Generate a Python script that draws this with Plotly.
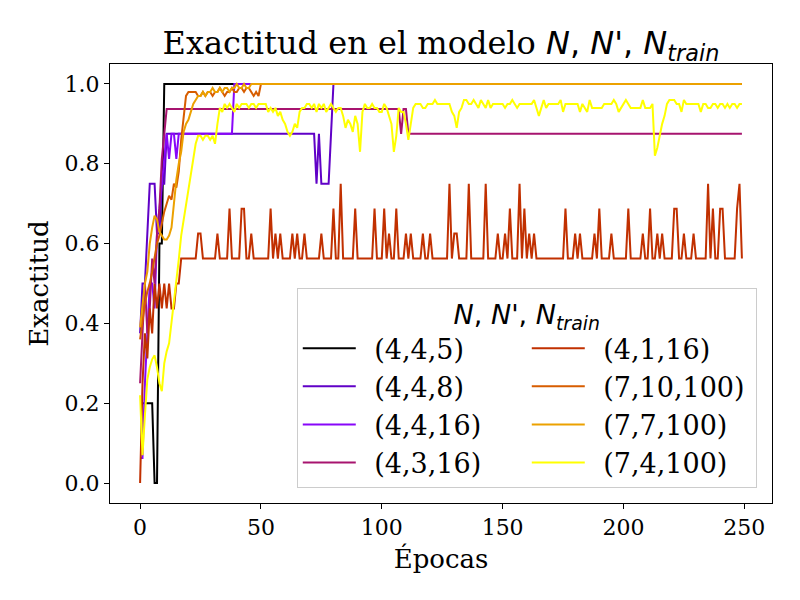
import plotly.graph_objects as go

# epochs 0..249
epochs = list(range(250))

labels = ["(4,4,5)", "(4,4,8)", "(4,4,16)", "(4,3,16)",
          "(4,1,16)", "(7,10,100)", "(7,7,100)", "(7,4,100)"]

# matplotlib "gnuplot" colormap sampled at 8 points
colors = ["#000000", "#6001c7", "#8806f9", "#a7146f",
          "#c13000", "#d75d00", "#eca100", "#ffff00"]

# legend slot (two columns, filled top-down like matplotlib ncol=2)
legend_rank = [1, 3, 5, 7, 2, 4, 6, 8]

acc_4_4_5 = [0.2] * 6 + [0.0, 0.0, 0.6, 0.6] + [1.0] * 240

acc_4_4_8 = ([0.375, 0.5, 0.5, 0.625, 0.75, 0.75, 0.75, 0.625, 0.625, 0.75, 0.75]
             + [0.875] * 62
             + [0.75, 0.875, 0.75, 0.75, 0.75, 0.75, 0.875]
             + [1.0] * 170)

acc_4_4_16 = ([0.0625, 0.0625, 0.25, 0.375, 0.5, 0.5, 0.4375, 0.625, 0.6875, 0.75,
               0.8125, 0.875, 0.8125, 0.875, 0.875, 0.8125]
              + [0.875] * 23
              + [1.0] * 211)

acc_4_3_16 = ([0.25, 0.375, 0.5, 0.375, 0.4375, 0.5625, 0.5, 0.625, 0.6875, 0.8125, 0.875]
              + [0.9375] * 97
              + [0.875, 0.9375, 0.9375]
              + [0.875] * 139)

acc_4_1_16 = [
    0.0, 0.25, 0.375, 0.3125, 0.4375, 0.375, 0.5, 0.4375, 0.5, 0.4375,
    0.5, 0.4375, 0.5, 0.4375, 0.4375, 0.5, 0.5, 0.5625, 0.5625, 0.5625,
    0.5625, 0.5625, 0.5625, 0.5625, 0.625, 0.625, 0.5625, 0.5625, 0.5625, 0.5625,
    0.5625, 0.5625, 0.625, 0.5625, 0.5625, 0.5625, 0.5625, 0.6875, 0.5625, 0.5625,
    0.5625, 0.5625, 0.6875, 0.6875, 0.5625, 0.5625, 0.625, 0.5625, 0.5625, 0.5625,
    0.5625, 0.5625, 0.5625, 0.5625, 0.6875, 0.5625, 0.625, 0.5625, 0.625, 0.5625,
    0.5625, 0.5625, 0.5625, 0.625, 0.5625, 0.625, 0.5625, 0.5625, 0.625, 0.5625,
    0.5625, 0.5625, 0.5625, 0.5625, 0.5625, 0.625, 0.5625, 0.5625, 0.5625, 0.5625,
    0.6875, 0.5625, 0.5625, 0.75, 0.5625, 0.5625, 0.5625, 0.5625, 0.5625, 0.6875,
    0.5625, 0.5625, 0.5625, 0.5625, 0.5625, 0.5625, 0.5625, 0.6875, 0.5625, 0.5625,
    0.5625, 0.6875, 0.5625, 0.625, 0.5625, 0.5625, 0.6875, 0.5625, 0.5625, 0.5625,
    0.625, 0.5625, 0.625, 0.5625, 0.5625, 0.5625, 0.5625, 0.625, 0.5625, 0.5625,
    0.625, 0.5625, 0.5625, 0.5625, 0.5625, 0.5625, 0.5625, 0.5625, 0.75, 0.5625,
    0.625, 0.625, 0.5625, 0.5625, 0.5625, 0.5625, 0.75, 0.5625, 0.5625, 0.5625,
    0.5625, 0.5625, 0.5625, 0.75, 0.5625, 0.5625, 0.5625, 0.5625, 0.625, 0.5625,
    0.5625, 0.625, 0.5625, 0.6875, 0.5625, 0.5625, 0.5625, 0.75, 0.5625, 0.6875,
    0.5625, 0.625, 0.5625, 0.625, 0.5625, 0.5625, 0.5625, 0.5625, 0.5625, 0.5625,
    0.5625, 0.5625, 0.5625, 0.5625, 0.5625, 0.5625, 0.6875, 0.5625, 0.5625, 0.5625,
    0.625, 0.5625, 0.625, 0.5625, 0.5625, 0.5625, 0.5625, 0.5625, 0.625, 0.5625,
    0.6875, 0.5625, 0.5625, 0.5625, 0.5625, 0.625, 0.5625, 0.5625, 0.5625, 0.5625,
    0.5625, 0.5625, 0.6875, 0.5625, 0.5625, 0.5625, 0.5625, 0.5625, 0.625, 0.5625,
    0.5625, 0.6875, 0.5625, 0.5625, 0.625, 0.5625, 0.625, 0.5625, 0.5625, 0.5625,
    0.5625, 0.6875, 0.6875, 0.5625, 0.5625, 0.625, 0.5625, 0.5625, 0.5625, 0.625,
    0.5625, 0.5625, 0.5625, 0.5625, 0.5625, 0.75, 0.5625, 0.6875, 0.5625, 0.5625,
    0.6875, 0.6875, 0.5625, 0.5625, 0.5625, 0.5625, 0.5625, 0.6875, 0.75, 0.5625,
]

acc_7_10_100 = [
    0.36, 0.41, 0.45, 0.48, 0.5, 0.53, 0.57, 0.6, 0.62, 0.65,
    0.68, 0.7, 0.72, 0.71, 0.75, 0.74, 0.78, 0.86, 0.92, 0.97,
    0.98, 0.98, 0.98, 0.98, 0.97, 0.97, 0.98, 0.97, 0.98, 0.98,
    0.97, 0.98, 0.98, 0.99, 0.98, 0.97, 0.98, 0.98, 0.99, 0.98,
    0.98, 0.99, 0.99, 0.98, 0.99, 0.99, 0.98, 0.97, 0.98, 0.97,
] + [1.0] * 200

acc_7_7_100 = [
    0.39, 0.45, 0.5, 0.53, 0.6, 0.64, 0.67, 0.66, 0.63, 0.62,
    0.61, 0.61, 0.62, 0.64, 0.7, 0.76, 0.8, 0.83, 0.88, 0.9,
    0.91, 0.93, 0.95, 0.96, 0.97, 0.97, 0.98, 0.97, 0.98, 0.98,
    0.99, 0.98, 0.98, 0.99, 0.98, 0.99, 0.99, 0.98, 0.99, 0.99,
    1.0, 0.99, 0.99, 1.0, 0.99, 0.99,
] + [1.0] * 204

acc_7_4_100 = [
    0.22, 0.07, 0.17, 0.26, 0.29, 0.31, 0.32, 0.29, 0.25, 0.23,
    0.3, 0.33, 0.35, 0.4, 0.46, 0.5, 0.56, 0.62, 0.66, 0.7,
    0.74, 0.78, 0.82, 0.85, 0.87, 0.87, 0.86, 0.87, 0.87, 0.86,
    0.87, 0.85, 0.9, 0.94, 0.93, 0.95, 0.94, 0.95, 0.94, 0.93,
    0.95, 0.94, 0.95, 0.95, 0.95, 0.94, 0.95, 0.95, 0.94, 0.95,
    0.95, 0.95, 0.95, 0.93, 0.94, 0.93, 0.94, 0.92, 0.93, 0.91,
    0.9, 0.88, 0.87, 0.88, 0.9, 0.89, 0.93, 0.94, 0.94, 0.95,
    0.95, 0.94, 0.95, 0.93, 0.95, 0.94, 0.95, 0.93, 0.94, 0.95,
    0.94, 0.93, 0.94, 0.94, 0.92, 0.89, 0.91, 0.9, 0.88, 0.92,
    0.9, 0.83, 0.93, 0.95, 0.94, 0.94, 0.95, 0.94, 0.94, 0.93,
    0.93, 0.95, 0.94, 0.92, 0.9, 0.83, 0.87, 0.94, 0.93, 0.93,
    0.9, 0.86, 0.9, 0.94, 0.95, 0.95, 0.95, 0.94, 0.94, 0.95,
    0.95, 0.95, 0.96, 0.95, 0.95, 0.95, 0.95, 0.95, 0.95, 0.93,
    0.92, 0.89, 0.93, 0.94, 0.96, 0.96, 0.95, 0.95, 0.96, 0.95,
    0.94, 0.96, 0.95, 0.94, 0.96, 0.94, 0.95, 0.95, 0.95, 0.95,
    0.95, 0.94, 0.95, 0.95, 0.96, 0.95, 0.94, 0.95, 0.95, 0.95,
    0.95, 0.95, 0.95, 0.96, 0.94, 0.92, 0.94, 0.96, 0.94, 0.95,
    0.95, 0.95, 0.95, 0.95, 0.96, 0.93, 0.95, 0.95, 0.95, 0.95,
    0.95, 0.95, 0.93, 0.95, 0.94, 0.93, 0.96, 0.94, 0.94, 0.94,
    0.94, 0.94, 0.95, 0.95, 0.95, 0.95, 0.96, 0.95, 0.93, 0.94,
    0.95, 0.96, 0.95, 0.94, 0.94, 0.94, 0.94, 0.94, 0.96, 0.94,
    0.94, 0.94, 0.95, 0.82, 0.84, 0.87, 0.9, 0.92, 0.95, 0.96,
    0.96, 0.96, 0.95, 0.95, 0.93, 0.96, 0.95, 0.95, 0.95, 0.95,
    0.95, 0.95, 0.93, 0.95, 0.95, 0.94, 0.94, 0.95, 0.95, 0.94,
    0.95, 0.95, 0.94, 0.95, 0.94, 0.95, 0.95, 0.94, 0.95, 0.95,
]

series = [acc_4_4_5, acc_4_4_8, acc_4_4_16, acc_4_3_16,
          acc_4_1_16, acc_7_10_100, acc_7_7_100, acc_7_4_100]

MATH = "font-family:DejaVu Sans"
math_label = f"<span style='{MATH}'><i>N</i>, <i>N'</i>, <i>N<sub>train</sub></i></span>"
GAP = "\u2002"  # extra room between legend line and its label

fig = go.Figure()
for name, ys, col, rank in zip(labels, series, colors, legend_rank):
    fig.add_trace(go.Scatter(
        x=epochs, y=ys, mode="lines", name=GAP + name,
        line=dict(color=col, width=2),
        legendrank=rank,
    ))

# the page body adds an 8px offset, so margins are shifted by 8px
fig.update_layout(
    width=800, height=600,
    margin=dict(l=102, r=36, t=56, b=105),
    paper_bgcolor="white", plot_bgcolor="white",
    font=dict(family="DejaVu Serif", size=22, color="black"),
    title=dict(
        text="Exactitud en el modelo " + math_label,
        x=0.5, xref="paper", xanchor="center",
        y=1 - 35 / 600, yref="container", yanchor="middle",
        font=dict(size=32),
    ),
    legend=dict(
        orientation="h",
        x=0.977, xanchor="right", y=0.034, yanchor="bottom",
        entrywidth=161, entrywidthmode="pixels",
        itemwidth=53,
        bgcolor="rgba(255,255,255,0.8)",
        bordercolor="#cccccc", borderwidth=1,
        font=dict(size=27),
        title=dict(text=math_label, side="top center", font=dict(size=27)),
    ),
)

fig.update_xaxes(
    range=[-12.45, 261.45],
    tickvals=[0, 50, 100, 150, 200, 250],
    showgrid=False, zeroline=False, automargin=False,
    showline=True, linecolor="black", linewidth=1, mirror=True,
    ticks="outside", ticklen=5, tickwidth=1, tickcolor="black",
    title=dict(text="Épocas", standoff=10),
)
fig.update_yaxes(
    range=[-0.05, 1.05],
    tickvals=[0.0, 0.2, 0.4, 0.6, 0.8, 1.0], tickformat=".1f",
    showgrid=False, zeroline=False, automargin=False,
    showline=True, linecolor="black", linewidth=1, mirror=True,
    ticks="outside", ticklen=5, tickwidth=1, tickcolor="black",
    title=dict(text="Exactitud", standoff=8),
)

fig.write_html("out.html")
